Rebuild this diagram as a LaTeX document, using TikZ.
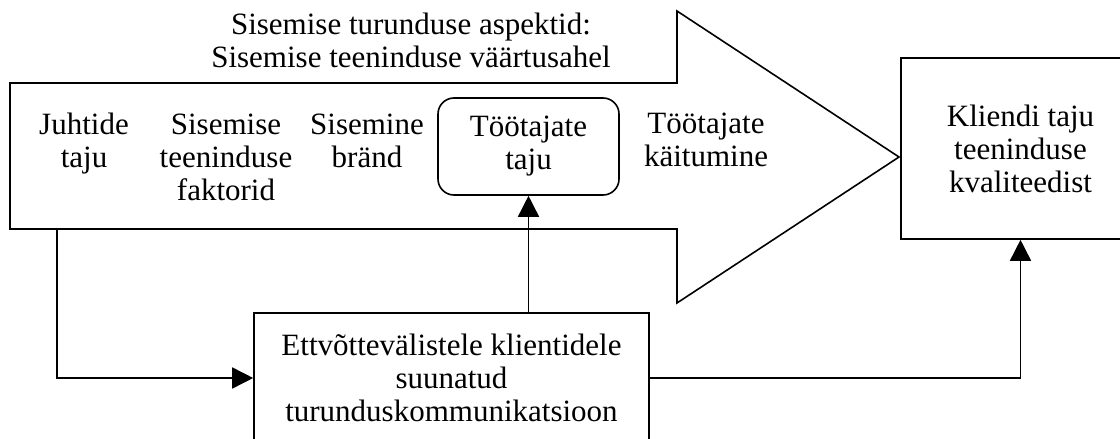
\documentclass[tikz,border=0pt]{standalone}
\usepackage{fontspec}
\setmainfont{Liberation Serif}
\usetikzlibrary{arrows.meta}
\begin{document}
\begin{tikzpicture}[x=1pt,y=-1pt,line width=1.6pt,
  lbl/.style={font=\fontsize{31}{33}\selectfont, align=center, inner sep=0pt},
  box/.style={draw, lbl, rectangle},
  conn/.style={-{Triangle[length=21pt,width=21pt]}}]
\useasboundingbox (0,0) rectangle (1120,439);
\clip (0,0) rectangle (1120,439);

% large chevron arrow of the internal service value chain
\draw[line join=miter] (10,83) -- (677,83) -- (677,11) -- (899,157) -- (677,303)
  -- (677,229) -- (10,229) -- cycle;
\coordinate (chainout) at (57,229);

% multi-line labels: the base anchor sits on the last line's baseline
\node[lbl, anchor=base] (title) at (411,67)
  {Sisemise turunduse aspektid:\\Sisemise teeninduse väärtusahel};

\node[lbl, anchor=base] (juht) at (84,167) {Juhtide\\taju};
\node[lbl, anchor=base] (fakt) at (226,200) {Sisemise\\teeninduse\\faktorid};
\node[lbl, anchor=base] (brand) at (367,167) {Sisemine\\bränd};
\node[box, rounded corners=16pt, minimum width=181pt, minimum height=97pt]
  (taju) at (528.5,146.5) {Töötajate\\taju};
\node[lbl, anchor=base] (kait) at (706,166) {Töötajate\\käitumine};

\node[box, minimum width=239pt, minimum height=181pt]
  (klient) at (1020.5,148.5) {Kliendi taju\\teeninduse\\kvaliteedist};

\node[box, minimum width=395pt, minimum height=130pt]
  (komm) at (451.5,378) {Ettvõttevälistele klientidele\\suunatud\\turunduskommunikatsioon};

% connectors
\draw[conn] (chainout) |- (komm.west);
\draw[conn] (komm.north -| taju.south) -- (taju.south);
\draw[conn] (komm.east) -| (klient.south);
\end{tikzpicture}
\end{document}
